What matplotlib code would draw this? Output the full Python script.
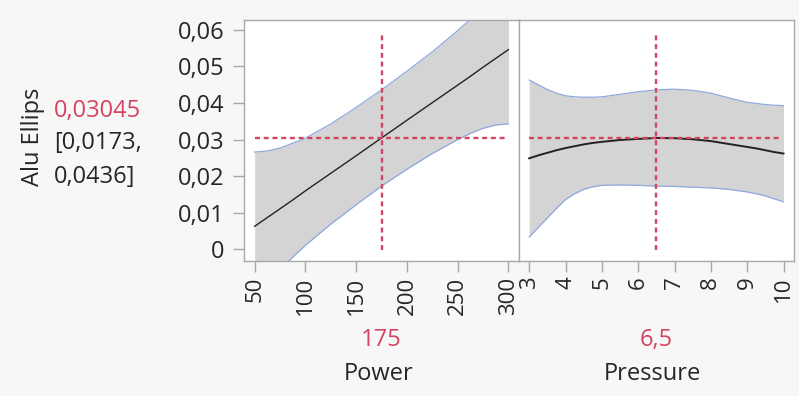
import matplotlib.pyplot as plt
import numpy as np

# profiler data
power = [50, 62.5, 75, 87.5, 100, 125, 150, 175, 200, 225, 250, 262.5, 275, 287.5, 300]
power_pred = [0.0063, 0.0087, 0.0111, 0.0135, 0.0160, 0.0208, 0.0256, 0.03045, 0.0353,
              0.0401, 0.0449, 0.0473, 0.0498, 0.0522, 0.0546]
power_hi = [0.0266, 0.0269, 0.0277, 0.0290, 0.0304, 0.0343, 0.0388, 0.0436, 0.0487,
            0.0540, 0.0598, 0.0629, 0.0665, 0.0704, 0.0749]
power_lo = [-0.0140, -0.0095, -0.0056, -0.0021, 0.0011, 0.0069, 0.0122, 0.0173, 0.0219,
            0.0262, 0.0300, 0.0317, 0.0331, 0.0340, 0.0343]

pressure = [3, 3.25, 3.5, 3.75, 4, 4.25, 4.5, 4.75, 5, 5.5, 6, 6.5, 7, 7.5, 8, 8.5, 9,
            9.25, 9.5, 9.75, 10]
pressure_pred = [0.0249, 0.0257, 0.0264, 0.0271, 0.0277, 0.0282, 0.0287, 0.0291, 0.0294,
                 0.0299, 0.0302, 0.03045, 0.0304, 0.0301, 0.0296, 0.0288, 0.0280, 0.0276,
                 0.0271, 0.0266, 0.0262]
pressure_hi = [0.0463, 0.0450, 0.0437, 0.0427, 0.0420, 0.0417, 0.0416, 0.0416, 0.0417,
               0.0424, 0.0431, 0.0436, 0.0438, 0.0435, 0.0427, 0.0414, 0.0402, 0.0399,
               0.0396, 0.0394, 0.0393]
pressure_lo = [0.0034, 0.0060, 0.0086, 0.0112, 0.0136, 0.0152, 0.0164, 0.0171, 0.0175,
               0.0176, 0.0175, 0.0173, 0.0172, 0.0170, 0.0168, 0.0164, 0.0157, 0.0152,
               0.0146, 0.0138, 0.0130]

y_ticks = [0, 0.01, 0.02, 0.03, 0.04, 0.05, 0.06]
y_labels = ["0", "0,01", "0,02", "0,03", "0,04", "0,05", "0,06"]
power_ticks = [50, 100, 150, 200, 250, 300]
pressure_ticks = [3, 4, 5, 6, 7, 8, 9, 10]

current_y = 0.03045
current_power = 175
current_pressure = 6.5

plt.rcParams['font.family'] = ['Open Sans', 'DejaVu Sans']
RED = '#d4435f'
BAND = '#d4d4d4'
EDGE = '#8ea8e0'
FRAME = '#a8a8a8'
TXT = '#262626'
FS = 17

fig = plt.figure(figsize=(7.99, 3.96), dpi=100, facecolor='#f7f7f7')
ax1 = fig.add_axes([0.3054, 0.3417, 0.3442, 0.6086])
ax2 = fig.add_axes([0.6496, 0.3417, 0.3442, 0.6086])

panels = [
    (ax1, power, power_pred, power_hi, power_lo, current_power, (39.5, 310.5), power_ticks, 1.0),
    (ax2, pressure, pressure_pred, pressure_hi, pressure_lo, current_pressure, (2.72, 10.29), pressure_ticks, 1.4),
]

for ax, x, pred, hi, lo, cur, xlim, ticks, lw in panels:
    ax.set_facecolor('white')
    ax.fill_between(x, lo, hi, color=BAND, lw=0)
    ax.plot(x, hi, color=EDGE, lw=0.9)
    ax.plot(x, lo, color=EDGE, lw=0.9)
    ax.plot(x, pred, color='#222222', lw=lw)
    ax.hlines(current_y, x[0], x[-1] - (x[-1] - x[0]) * 0.01, color=RED, lw=1.7,
              linestyle=(0, (2.1, 1.6)))
    ax.axvline(cur, ymin=0.045, ymax=0.936, color=RED, lw=1.7, linestyle=(0, (2.1, 1.6)))
    ax.set_xlim(*xlim)
    ax.set_ylim(-0.0031, 0.0628)
    ax.set_xticks(ticks)
    ax.set_xticklabels([str(t) for t in ticks], rotation=90, fontsize=16, color=TXT)
    for s in ax.spines.values():
        s.set_color(FRAME)
        s.set_linewidth(1)
    ax.tick_params(axis='x', length=8, width=1, color=FRAME, pad=3.5)
    ax.tick_params(axis='y', length=8, width=1, color=FRAME, pad=6)

ax1.set_yticks(y_ticks)
ax1.set_yticklabels(y_labels, fontsize=FS, color=TXT)
ax2.set_yticks([])

fig.text(0.0407, 0.654, "Alu Ellips", rotation=90, ha='center', va='center', fontsize=FS, color=TXT)
fig.text(0.068, 0.705, "0,03045", ha='left', va='baseline', fontsize=FS, color=RED)
fig.text(0.068, 0.623, "[0,0173,", ha='left', va='baseline', fontsize=FS, color=TXT)
fig.text(0.068, 0.537, "0,0436]", ha='left', va='baseline', fontsize=FS, color=TXT)

fig.text(0.477, 0.126, "175", ha='center', va='baseline', fontsize=FS, color=RED)
fig.text(0.821, 0.126, "6,5", ha='center', va='baseline', fontsize=FS, color=RED)
fig.text(0.4737, 0.0404, "Power", ha='center', va='baseline', fontsize=FS, color=TXT)
fig.text(0.816, 0.0404, "Pressure", ha='center', va='baseline', fontsize=FS, color=TXT)

fig.savefig("out.png", dpi=100, facecolor=fig.get_facecolor())
